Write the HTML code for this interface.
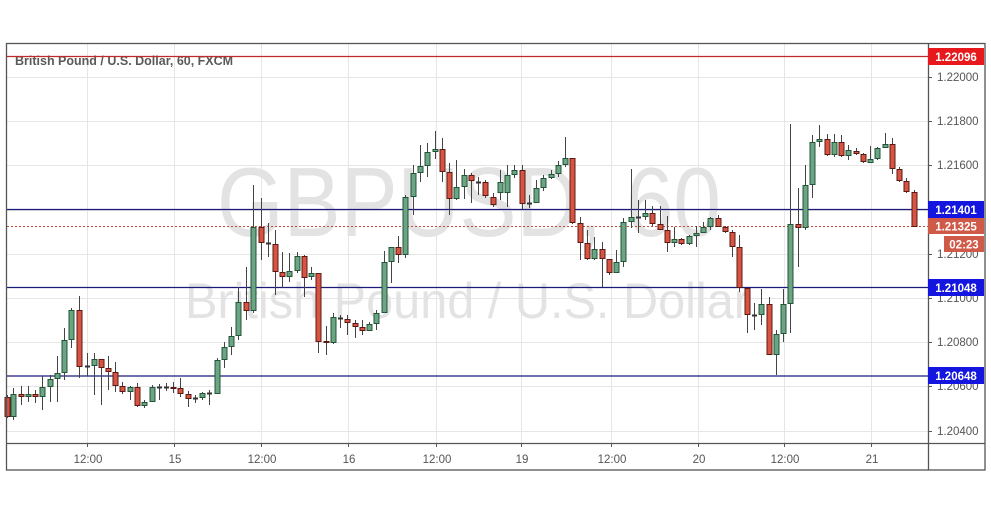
<!DOCTYPE html>
<html><head><meta charset="utf-8"><style>
html,body{margin:0;padding:0;background:#fff;}
svg{display:block;font-family:"Liberation Sans",sans-serif;}
</style></head><body>
<svg id="c" width="991" height="507" viewBox="0 0 991 507" xmlns="http://www.w3.org/2000/svg">
<rect width="991" height="507" fill="#fff"/>
<g id="grid" stroke="#e6e6e6" stroke-width="1"></g>
<text x="217" y="236" font-size="98" fill="#e3e3e3" textLength="504" lengthAdjust="spacingAndGlyphs">GBPUSD, 60</text>
<text x="185" y="318" font-size="50" fill="#e3e3e3" textLength="565" lengthAdjust="spacingAndGlyphs">British Pound / U.S. Dollar</text>
<text x="15" y="65" font-size="12.5" font-weight="bold" fill="#5a5a5a">British Pound / U.S. Dollar, 60, FXCM</text>
<line x1="7" y1="56.5" x2="928" y2="56.5" stroke="#c0282a" stroke-width="1.2"/>
<line x1="7" y1="209.5" x2="928" y2="209.5" stroke="#1a1a7a" stroke-width="1.2"/>
<line x1="7" y1="287.5" x2="928" y2="287.5" stroke="#1a1a7a" stroke-width="1.2"/>
<line x1="7" y1="376" x2="928" y2="376" stroke="#1a1a7a" stroke-width="1.2"/>
<line x1="7" y1="226.5" x2="928" y2="226.5" stroke="#c0503a" stroke-width="1" stroke-dasharray="2,2"/>
<g id="candles"></g>
<g fill="none" stroke="#555" stroke-width="1.3">
<rect x="6.5" y="43.5" width="978.5" height="426.5"/>
<line x1="928.5" y1="43" x2="928.5" y2="470"/>
<line x1="6" y1="443.5" x2="985" y2="443.5"/>
</g>
<g id="axis" font-size="11.5" fill="#555"></g>
<rect x="928" y="48" width="56" height="17" fill="#e8191c"/>
<text x="956" y="61" font-size="11.5" font-weight="bold" fill="#fff" text-anchor="middle">1.22096</text>
<rect x="928" y="201" width="56" height="17" fill="#1515e0"/>
<text x="956" y="214" font-size="11.5" font-weight="bold" fill="#fff" text-anchor="middle">1.21401</text>
<rect x="928" y="218" width="56" height="16" fill="#d05a48"/>
<text x="956" y="230.5" font-size="11.5" font-weight="bold" fill="#fff" text-anchor="middle">1.21325</text>
<rect x="944" y="236" width="40" height="16" fill="#d05a48"/>
<text x="964" y="248.5" font-size="11.5" font-weight="bold" fill="#fff" text-anchor="middle">02:23</text>
<rect x="928" y="279" width="56" height="17" fill="#1515e0"/>
<text x="956" y="292" font-size="11.5" font-weight="bold" fill="#fff" text-anchor="middle">1.21048</text>
<rect x="928" y="367" width="56" height="17" fill="#1515e0"/>
<text x="956" y="380" font-size="11.5" font-weight="bold" fill="#fff" text-anchor="middle">1.20648</text>
</svg>
<script>
var NS="http://www.w3.org/2000/svg";
function el(p,t,a,txt){var e=document.createElementNS(NS,t);for(var k in a)e.setAttribute(k,a[k]);if(txt)e.textContent=txt;p.appendChild(e);return e;}
var grid=document.getElementById("grid"),axis=document.getElementById("axis");
var gy=[77,121,165,210,254,298,342,386,431],gl=["1.22000","1.21800","1.21600","1.21400","1.21200","1.21000","1.20800","1.20600","1.20400"];
gy.forEach(function(y,i){el(grid,"line",{x1:7,y1:y+.5,x2:928,y2:y+.5});el(axis,"line",{x1:928,y1:y+.5,x2:932,y2:y+.5,stroke:"#555"});el(axis,"text",{x:937,y:y+4},gl[i]);});
var gx=[87,174,261,348,436,521,611,698,784,871],xl=["12:00","15","12:00","16","12:00","19","12:00","20","12:00","21"];
gx.forEach(function(x,i){el(grid,"line",{x1:x+.5,y1:44,x2:x+.5,y2:443});el(axis,"line",{x1:x+.5,y1:443,x2:x+.5,y2:447,stroke:"#555"});el(axis,"text",{x:x+1,y:463,"text-anchor":"middle"},xl[i]);});
// x, open, close, high, low (pixel y)
var d=[
[7,397,417,395,418],[13,417,394,388,420],[21,394,397,386,405],[28,397,394,386,402],[35,394,397,390,403],[42,397,387,376,410],[50,387,379,375,402],[57,379,373,356,402],[64,373,340,328,380],[71,340,310,308,348],
[79,310,367,296,378],[87,366,366,353,376],[94,366,359,353,395],[101,359,368,359,405],[108,368,372,356,390],[115,372,386,362,392],[122,386,392,382,394],[130,392,387,386,400],[137,387,406,383,407],[144,406,402,400,408],
[152,402,387,385,402],[159,387,387,384,400],[166,388,387,383,391],[173,387,389,382,393],[180,388,394,378,397],[188,394,399,391,407],[195,398,398,395,403],[202,398,393,392,400],[209,393,393,390,405],[217,394,360,358,394],
[224,360,347,342,368],[231,347,336,327,355],[238,336,302,287,340],[246,302,311,267,320],[253,311,227,185,313],[261,227,243,198,260],[268,243,243,223,257],[275,244,272,230,295],[282,272,277,252,288],[289,277,271,253,282],
[297,271,256,252,273],[304,256,278,255,297],[311,277,273,267,280],[318,273,342,273,353],[326,341,343,326,355],[333,343,317,313,344],[340,318,318,315,328],[347,319,323,315,335],[355,323,327,320,338],[362,327,331,320,335],
[369,331,324,322,331],[376,324,313,310,330],[384,313,262,251,313],[391,262,247,247,283],[398,247,255,236,263],[405,255,197,195,258],[413,197,173,165,215],[420,173,166,145,182],[427,166,152,143,177],[435,152,149,131,159],
[442,149,172,138,182],[449,172,199,163,215],[456,199,187,160,200],[464,187,175,169,199],[471,175,181,173,203],[478,182,182,177,195],[485,182,196,180,198],[493,197,205,193,207],[500,193,182,170,200],[507,193,175,165,207],
[514,175,170,165,178],[522,170,204,165,209],[529,203,203,195,208],[536,203,188,180,203],[543,188,178,175,191],[551,178,174,170,179],[558,174,165,161,177],[565,165,158,137,167],[572,158,223,158,224],[580,223,243,217,260],
[587,243,259,230,260],[594,259,249,237,260],[602,249,259,242,287],[609,259,273,259,275],[616,273,262,250,273],[623,262,222,218,267],[631,222,217,169,228],[638,217,217,200,233],[645,217,213,200,220],[652,213,224,206,226],
[660,224,230,206,230],[667,230,243,216,252],[674,243,239,227,247],[681,239,244,238,245],[689,244,236,235,245],[696,236,233,226,247],[703,233,227,222,233],[710,227,218,217,230],[718,218,227,215,227],[725,227,232,226,233],
[732,232,247,230,257],[739,247,288,235,292],[747,288,315,288,333],[754,315,315,303,330],[761,315,304,289,325],[769,304,355,297,355],[776,355,334,330,375],[783,334,304,289,342],[790,304,224,124,333],[798,224,228,188,267],
[805,228,185,165,230],[812,185,142,135,198],[819,142,139,125,147],[827,139,155,134,156],[834,155,142,134,157],[841,142,156,135,157],[848,156,150,145,160],[856,151,154,148,155],[863,154,162,153,163],[870,163,159,146,163],
[877,159,148,147,160],[885,148,144,133,148],[892,144,169,138,174],[899,169,181,167,182],[906,181,192,178,193],[914,192,227,190,227]];
var cg=document.getElementById("candles");
d.forEach(function(c){var x=c[0],o=c[1],cl=c[2],up=cl<o||(cl==o&&false);var top=Math.min(o,cl),h=Math.abs(o-cl);
var bc=up?"#225437":"#5b1a13",fc=up?"#6ba583":"#d75442";
el(cg,"line",{x1:x+.5,y1:c[3],x2:x+.5,y2:c[4],stroke:"#444",'stroke-width':1});
if(h<1.5){el(cg,"rect",{x:x-2,y:top-.5,width:5,height:2,fill:"#333"});}
else el(cg,"rect",{x:x-2,y:top+.5,width:5,height:h-1,fill:fc,stroke:bc,'stroke-width':1});});
</script>
</body></html>
